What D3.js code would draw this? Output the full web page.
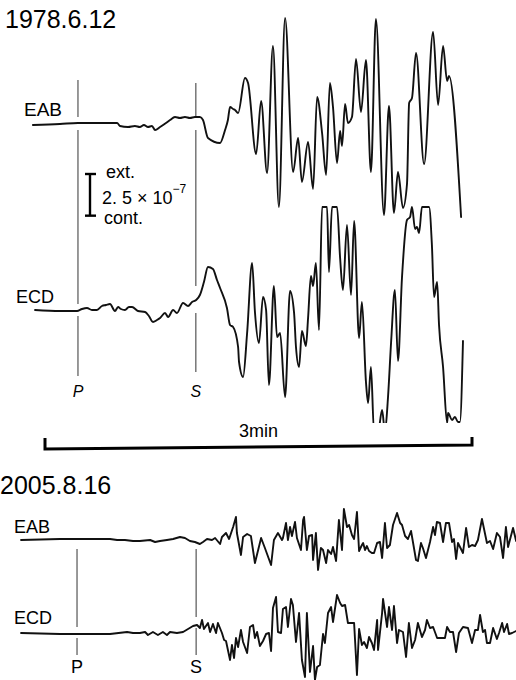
<!DOCTYPE html>
<html><head><meta charset="utf-8">
<script src="https://cdn.jsdelivr.net/npm/d3@7"></script>
<style>
html,body{margin:0;padding:0;background:#fff;}
svg{display:block;}
text{font-family:"Liberation Sans",Arial,Helvetica,sans-serif;fill:#000;}
</style></head>
<body><svg id="c" width="516" height="680"></svg>
<script>
// ---- data: time (s from bar start) , strain (×10^-9, ext. positive) ----
const titles = ["1978.6.12", "2005.8.16"];
const channels = ["EAB", "ECD"];
const arrivals1978 = [["P", 13.9], ["S", 63.6]];
const arrivals2005 = [["P", 13.5], ["S", 63.7]];
const scaleBarValue = 250;            // 2.5×10^-7
const timeBar = [0, 180];             // 3 min
const timeBarLabel = "3min";

const eab1978 = [[-5.1,-6],[6.3,0],[13.9,6],[23.2,6],[30.4,6],[31.6,-12],[35.0,-18],[37.9,-12],[40.0,-18],[41.7,-6],[43.4,-18],[45.1,-12],[46.4,-36],[48.5,-18],[51.0,6],[52.7,24],[54.8,42],[56.9,36],[59.0,42],[61.1,36],[63.2,42],[65.3,42],[66.6,24],[68.7,-84],[73.8,-114],[75.9,-36],[77.1,24],[78.0,102],[79.3,90],[80.1,84],[81.4,66],[84.3,276],[85.6,246],[89.0,-180],[91.1,138],[93.6,-294],[96.1,468],[98.6,-498],[101.2,636],[104.6,-288],[106.7,-84],[108.3,-348],[110.9,-108],[113.0,-390],[114.7,162],[116.8,-54],[118.5,-306],[120.1,246],[121.4,102],[123.1,-234],[124.4,-42],[125.2,-132],[126.5,120],[127.7,6],[129.4,42],[131.1,390],[133.2,72],[135.3,384],[137.4,-288],[139.5,630],[142.9,-546],[145.0,108],[147.1,-534],[148.8,-288],[150.9,-504],[152.6,-360],[153.5,126],[154.7,156],[156.4,426],[159.8,-240],[163.6,552],[165.7,114],[167.8,468],[169.5,258],[170.3,288],[175.4,-558]];

const ecd1978 = [[-4.2,0],[6.3,-6],[13.5,-6],[15.6,6],[17.7,12],[19.8,0],[21.9,0],[24.0,24],[25.7,30],[27.4,36],[29.5,-6],[30.8,18],[32.0,6],[33.7,0],[35.4,18],[36.7,18],[39.2,-6],[42.2,-12],[43.8,-36],[45.5,-72],[47.2,-60],[48.5,-48],[50.6,-18],[51.9,-42],[54.0,0],[55.6,-18],[58.2,42],[60.3,24],[62.0,48],[63.7,60],[65.3,90],[67.0,168],[68.7,258],[70.8,246],[72.5,180],[73.8,132],[76.7,12],[78.0,-90],[79.3,-102],[81.4,-222],[81.8,-312],[83.5,-402],[85.2,-138],[87.3,282],[88.5,-12],[90.2,-198],[91.9,78],[93.2,0],[94.4,-450],[96.5,144],[97.8,-162],[99.1,-138],[101.2,-522],[103.3,114],[105.0,-18],[105.8,-222],[107.1,-342],[108.3,-126],[110.0,-216],[110.9,-48],[112.1,204],[113.0,144],[114.2,282],[115.5,-120],[116.8,618],[118.9,618],[119.7,228],[121.0,618],[123.1,618],[124.4,312],[125.6,120],[127.3,510],[129.0,90],[130.3,534],[132.4,-168],[133.6,48],[135.3,-432],[136.2,-558],[137.4,-342],[138.7,-732],[140.4,-732],[142.1,-600],[143.3,-732],[144.6,-522],[145.9,-192],[147.5,120],[148.8,-306],[150.5,198],[152.6,540],[153.9,558],[154.7,618],[156.0,486],[156.8,498],[157.7,462],[158.9,618],[161.9,618],[163.1,390],[164.0,78],[165.3,168],[166.1,-90],[167.8,-342],[169.5,-678],[169.9,-618],[171.6,-660],[172.8,-642],[174.1,-672],[174.9,-672],[176.2,-186]];

const eab2005 = [[-10.1,0],[6.3,6],[23.2,6],[27.4,6],[30.4,0],[33.7,0],[37.1,-6],[40.0,-6],[44.3,0],[46.4,-12],[48.5,-6],[51.4,0],[54.0,6],[56.9,18],[59.0,12],[61.1,-6],[63.2,-12],[65.3,-24],[66.6,-12],[68.3,6],[70.4,0],[71.7,12],[73.8,-24],[74.6,18],[76.3,42],[77.6,6],[79.3,78],[80.5,138],[80.9,42],[82.6,-90],[83.5,18],[85.2,36],[86.8,24],[88.5,-138],[91.1,12],[92.7,-48],[95.3,-150],[96.5,0],[98.2,42],[99.9,0],[100.3,12],[101.6,102],[102.4,0],[103.3,78],[104.1,24],[105.4,108],[106.2,12],[107.9,-60],[108.8,120],[109.2,138],[110.4,-60],[111.3,24],[112.6,30],[113.0,-120],[114.2,42],[115.1,-180],[116.3,-48],[117.2,-60],[118.5,-138],[119.3,-60],[120.6,-84],[121.4,-42],[122.7,-126],[123.9,120],[125.2,-60],[126.0,186],[127.3,78],[128.2,90],[129.4,30],[130.3,6],[131.5,168],[132.4,-66],[133.6,-30],[134.1,-18],[134.9,-60],[135.7,-36],[136.6,-66],[137.8,-78],[138.7,-78],[140.0,-18],[141.2,-12],[142.1,-108],[143.3,102],[144.2,-48],[145.4,-30],[146.7,90],[148.4,162],[149.7,102],[150.5,90],[151.8,24],[153.0,6],[154.3,54],[155.1,-12],[156.4,-120],[157.2,-126],[158.5,-18],[159.3,-48],[160.6,-108],[162.3,-12],[163.6,78],[164.4,30],[165.2,108],[166.5,102],[167.8,-12],[169.0,102],[170.3,102],[171.6,-12],[172.4,6],[173.3,-114],[174.1,-18],[176.2,-78],[177.5,72],[178.7,-42],[180.0,-30],[181.3,-36],[182.5,0],[184.2,126],[186.3,-18],[187.6,-6],[188.9,-54],[190.5,42],[191.8,18],[193.1,-108],[194.3,78],[195.2,-42],[197.3,72],[198.6,-6]];

const ecd2005 = [[-10.1,0],[6.3,-6],[13.5,-6],[27.4,-6],[34.6,6],[37.1,0],[40.0,0],[42.2,6],[43.4,-12],[45.5,6],[47.6,-12],[49.7,6],[51.4,-12],[52.7,6],[55.6,0],[58.2,6],[60.3,24],[62.4,42],[64.1,48],[65.3,30],[66.2,78],[67.0,24],[68.7,60],[69.6,6],[70.8,54],[72.1,0],[72.9,60],[74.6,0],[75.5,-42],[76.3,-48],[78.0,-162],[78.8,-72],[79.7,-150],[80.5,-30],[81.4,-84],[82.6,18],[83.5,-54],[85.2,-120],[86.4,36],[87.7,48],[88.5,-30],[89.4,6],[90.6,-78],[91.9,-48],[93.2,-6],[94.4,0],[95.3,-108],[96.1,150],[97.4,216],[98.2,6],[99.5,0],[100.3,144],[101.6,156],[102.4,36],[103.7,204],[104.5,168],[105.8,-54],[107.1,120],[108.3,-162],[109.6,-264],[110.4,120],[111.7,-234],[113.0,-78],[113.8,-282],[114.7,-204],[115.9,-192],[117.2,-6],[118.0,-60],[119.3,120],[120.6,156],[121.4,66],[123.1,228],[124.4,180],[125.2,162],[126.5,168],[127.7,60],[129.4,60],[130.3,60],[131.5,-252],[132.4,24],[133.6,-72],[134.5,-54],[135.7,-90],[136.6,-24],[137.8,-60],[138.7,-102],[140.0,78],[140.4,-102],[142.1,120],[142.5,204],[144.2,36],[145.0,156],[146.3,18],[147.1,162],[148.4,-60],[149.2,18],[150.9,6],[152.2,-144],[153.4,60],[154.7,-90],[156.0,-42],[157.2,60],[158.9,-24],[160.2,18],[161.0,78],[162.3,30],[163.6,36],[165.3,-30],[167.4,-30],[168.6,-30],[169.5,36],[170.7,6],[172.0,6],[173.3,-114],[174.5,0],[176.2,36],[178.3,30],[180.0,-60],[181.3,18],[182.5,18],[183.4,108],[184.6,6],[185.5,18],[186.3,-60],[187.6,-60],[188.9,30],[190.5,-36],[191.4,0],[192.7,60],[193.5,6],[194.8,54],[195.6,-6],[196.9,0],[198.6,12]];

// ---- layout ----
const svg = d3.select("#c");
svg.append("rect").attr("width",516).attr("height",680).attr("fill","#fff");
const x = d3.scaleLinear().domain([0,180]).range([45,472]);
const amp = y0 => d3.scaleLinear().domain([0,600]).range([y0, y0-100]);

const panels = [
  {title: titles[0], tx: 5, ty: 28, arrivals: arrivals1978, italic: true,
   traces: [
     {name: channels[0], data: eab1978, y0: 124, lx: 24, ly: 116, fs: 19, curve: d3.curveMonotoneX, clip: null},
     {name: channels[1], data: ecd1978, y0: 310, lx: 16, ly: 303, fs: 18, curve: d3.curveMonotoneX, clip: [0, 423]}
   ],
   lines: {P: [[80,117],[130,304],[316,376]], S: [[83,118],[130,286],[313,372]]},
   labelY: 397, labelFs: 16},
  {title: titles[1], tx: 0, ty: 494, arrivals: arrivals2005, italic: false,
   traces: [
     {name: channels[0], data: eab2005, y0: 540, lx: 14, ly: 533, fs: 18, curve: d3.curveLinear, clip: null},
     {name: channels[1], data: ecd2005, y0: 633, lx: 14, ly: 624, fs: 18, curve: d3.curveLinear, clip: null}
   ],
   lines: {P: [[549,627],[638,655]], S: [[549,617],[628,655]]},
   labelY: 673, labelFs: 18}
];

const defs = svg.append("defs");
panels.forEach((p, pi) => {
  const g = svg.append("g");
  g.append("text").attr("x", p.tx).attr("y", p.ty).attr("font-size", 25).text(p.title);
  p.arrivals.forEach(([lab, t]) => {
    const xx = x(t);
    p.lines[lab].forEach(([a,b]) => {
      g.append("line").attr("x1", xx).attr("x2", xx).attr("y1", a).attr("y2", b)
        .attr("stroke", "#333").attr("stroke-width", 1);
    });
    g.append("text").attr("x", xx).attr("y", p.labelY).attr("text-anchor","middle")
      .attr("font-size", p.labelFs).attr("font-style", p.italic ? "italic" : "normal").text(lab);
  });
  p.traces.forEach((tr, ti) => {
    const y = amp(tr.y0);
    g.append("text").attr("x", tr.lx).attr("y", tr.ly).attr("font-size", tr.fs).text(tr.name);
    const line = d3.line().x(d => x(d[0])).y(d => y(d[1])).curve(tr.curve);
    const path = g.append("path").datum(tr.data).attr("d", line)
      .attr("fill","none").attr("stroke","#111").attr("stroke-width", 1.9)
      .attr("stroke-linejoin","round").attr("stroke-linecap","round");
    if (tr.clip) {
      const id = "clip" + pi + ti;
      defs.append("clipPath").attr("id", id).append("rect")
        .attr("x", 0).attr("y", tr.clip[0]).attr("width", 516).attr("height", tr.clip[1] - tr.clip[0]);
      path.attr("clip-path", `url(#${id})`);
    }
  });
});

// strain scale bar
const ampRef = amp(0);
const barH = ampRef(0) - ampRef(scaleBarValue);
const bx = 90, bTop = 174;
const sb = svg.append("g").attr("stroke","#000").attr("stroke-width",2.4);
sb.append("line").attr("x1",bx).attr("x2",bx).attr("y1",bTop).attr("y2",bTop+barH);
sb.append("line").attr("x1",bx-5).attr("x2",bx+6).attr("y1",bTop).attr("y2",bTop);
sb.append("line").attr("x1",bx-5).attr("x2",bx+6).attr("y1",bTop+barH).attr("y2",bTop+barH);
svg.append("text").attr("x",106).attr("y",178).attr("font-size",18).text("ext.");
const st = svg.append("text").attr("x",102).attr("y",204).attr("font-size",18);
st.append("tspan").text("2. 5 \u00d7 10");
st.append("tspan").attr("dy",-11).attr("font-size",12).text("\u22127");
svg.append("text").attr("x",104).attr("y",224).attr("font-size",18).text("cont.");

// 3 min time bar
const x0 = x(timeBar[0]), x1 = x(timeBar[1]);
svg.append("path")
  .attr("d", `M${x0},438 L${x0},449 L${x1},445 L${x1},437`)
  .attr("fill","none").attr("stroke","#000").attr("stroke-width",3);
svg.append("text").attr("x",(x0+x1)/2).attr("y",437).attr("text-anchor","middle")
  .attr("font-size",18).text(timeBarLabel);
</script></body></html>
